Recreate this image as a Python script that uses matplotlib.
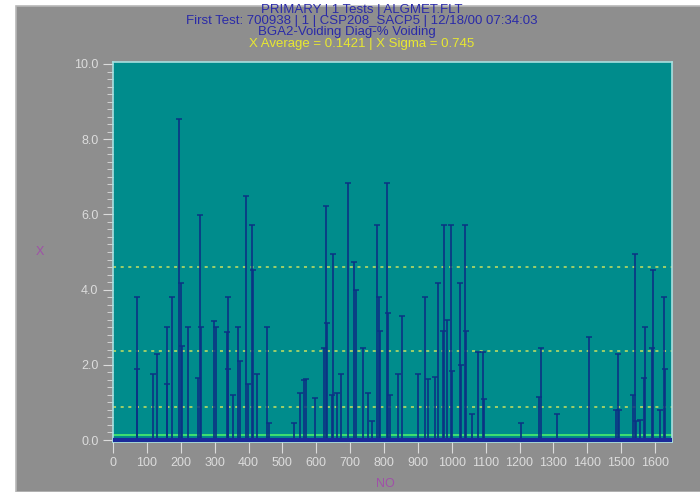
import numpy as np
import matplotlib.pyplot as plt
from matplotlib.patches import Rectangle

# sample numbers (NO) and % voiding
spike_no = [70, 72, 117, 129, 158, 160, 173, 196, 200, 205, 222, 250, 257, 260,
            299, 303, 336, 338, 340, 355, 370, 375, 394, 398, 409, 412, 426, 456, 460,
            535, 552, 563, 571, 596, 622, 630, 632, 645, 650, 660, 674, 694, 711, 717,
            738, 753, 765, 780, 785, 788, 809, 812, 817, 840, 853, 899, 920, 930, 950,
            960, 975, 977, 987, 997, 1000, 1024, 1027, 1038, 1041, 1060, 1076, 1092, 1095,
            1203, 1258, 1262, 1312, 1405, 1485, 1491, 1495, 1536, 1540, 1545, 1555,
            1568, 1571, 1590, 1594, 1614, 1627, 1630]
spike_val = [3.81, 1.9, 1.75, 2.3, 3.0, 1.5, 3.81, 8.53, 4.17, 2.5, 3.0, 1.65, 5.98, 3.0,
             3.17, 3.0, 2.88, 3.81, 1.9, 1.2, 3.0, 2.1, 6.5, 1.5, 5.72, 4.52, 1.75, 3.0, 0.45,
             0.45, 1.25, 1.6, 1.62, 1.13, 2.45, 6.22, 3.1, 1.2, 4.95, 1.25, 1.75, 6.84, 4.73, 4.0,
             2.45, 1.26, 0.5, 5.72, 3.8, 2.9, 6.84, 3.37, 1.2, 1.75, 3.3, 1.75, 3.81, 1.62, 1.68,
             4.18, 2.9, 5.72, 3.19, 5.72, 1.83, 4.18, 2.0, 5.72, 2.9, 0.7, 2.33, 2.33, 1.1,
             0.46, 1.15, 2.44, 0.7, 2.73, 0.8, 2.3, 0.8, 1.2, 4.95, 0.5, 0.53,
             1.65, 3.0, 2.45, 4.52, 0.8, 3.81, 1.9]

x_average = 0.1421
x_sigma = 0.745
sigma_levels = [1, 3, 6]

title_lines = ["PRIMARY | 1 Tests | ALGMET.FLT",
               "First Test: 700938 | 1 | CSP208_SACP5 | 12/18/00 07:34:03",
               "BGA2-Voiding Diag-% Voiding"]
stats_line = "X Average = 0.1421 | X Sigma = 0.745"

plt.rcParams['font.family'] = ['Liberation Sans', 'DejaVu Sans']

fig = plt.figure(figsize=(7, 4.92), dpi=100, facecolor='white')
fig.add_artist(Rectangle((16 / 700, 0), 1, 1 - 6 / 492, transform=fig.transFigure,
                         facecolor='#8e8e8e', edgecolor='#b8b8b8', lw=1.2, zorder=-5))

ax = fig.add_axes([113 / 700, 50 / 492, 559 / 700, 380 / 492])
ax.set_facecolor('#008c8c')

ax.vlines(spike_no, 0, spike_val, colors='#0b3284', lw=1.2, zorder=3)
ax.plot(spike_no, spike_val, ls='none', marker='_', ms=5, mew=1.1, color='#0b3284', zorder=3)
ax.axhline(0, color='#1a2a9a', lw=3, zorder=4)

ax.axhline(x_average, color='#40e070', lw=1.4, zorder=2)
for k in sigma_levels:
    ax.axhline(x_average + k * x_sigma, color='#c8e060', lw=1.1, ls=(0, (2, 3)), zorder=2)

ax.set_xlim(0, 1650)
ax.set_ylim(-0.053, 10.053)
ax.set_xticks(np.arange(0, 1700, 100))
ax.set_yticks(np.arange(0, 10.1, 2))
ax.set_yticks(np.arange(0, 10.1, 0.2), minor=True)
ax.set_yticklabels([f"{v:.1f}" for v in np.arange(0, 10.1, 2)])

for s in ax.spines.values():
    s.set_color('#a8e0e0')
    s.set_linewidth(1.2)
ax.tick_params(colors='#dcdcdc', labelsize=9, direction='out')
ax.tick_params(axis='x', length=8, pad=3)
ax.tick_params(axis='y', which='major', length=7)
ax.tick_params(axis='y', which='minor', length=4, color='#dcdcdc')

ax.set_xlabel('NO', color='#a050a8', fontsize=9, va='center')
ax.xaxis.set_label_coords(0.487, -0.11)
ax.set_ylabel('X', color='#a050a8', fontsize=9, rotation=0, va='center')
ax.yaxis.set_label_coords(-0.131, 0.5)

fig.text(362 / 700, 1 - 10 / 492, title_lines[0], ha='center', va='center', color='#2a2aa8', fontsize=9.5)
fig.text(362 / 700, 1 - 21 / 492, title_lines[1], ha='center', va='center', color='#2a2aa8', fontsize=9.5)
fig.text(347 / 700, 1 - 32 / 492, title_lines[2], ha='center', va='center', color='#2a2aa8', fontsize=9.5)
fig.text(362 / 700, 1 - 44 / 492, stats_line, ha='center', va='center', color='#e8e830', fontsize=9.5)

fig.savefig('out.png', dpi=100, facecolor=fig.get_facecolor())
